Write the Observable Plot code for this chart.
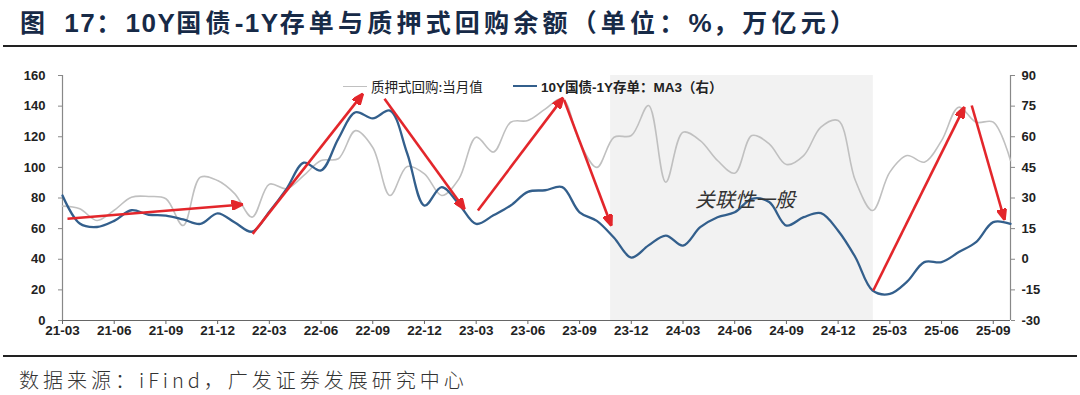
<!DOCTYPE html>
<html><head><meta charset="utf-8">
<script src="https://cdn.jsdelivr.net/npm/d3@7"></script>
<script src="https://cdn.jsdelivr.net/npm/@observablehq/plot@0.6"></script>
<style>
body{margin:0;background:#fff;width:1080px;height:395px;position:relative;overflow:hidden;font-family:"Liberation Sans","Noto Sans CJK SC",sans-serif;}
#title{position:absolute;left:20px;top:3px;font-size:25px;font-weight:bold;color:#172a47;letter-spacing:4.2px;white-space:nowrap;font-family:"Liberation Sans","Noto Sans CJK SC",sans-serif;}
#title .l{font-size:26px;letter-spacing:1.5px;}
#rule1{position:absolute;left:3px;width:1074px;top:45px;height:2px;background:#222;}
#chart{position:absolute;left:0;top:50px;}
#rule2{position:absolute;left:3px;width:1074px;top:355px;height:2px;background:#222;}
#source{position:absolute;left:19px;top:365px;font-size:20px;letter-spacing:4px;color:#333;white-space:nowrap;font-family:"Noto Sans CJK SC",sans-serif;font-weight:300;}
.lg{position:absolute;top:76px;font-size:13.5px;white-space:nowrap;color:#222;display:flex;align-items:center;}
.lg span.s{display:inline-block;width:24px;margin-right:4px;}
</style></head>
<body>
<div id="title">图&nbsp;<span class="l" style="margin-left:4px;">17</span>：<span class="l">10Y</span>国债<span class="l">-1Y</span>存单与质押式回购余额（单位：<span class="l">%</span>，万亿元）</div>
<div id="rule1"></div>
<div id="chart"></div>
<div class="lg" style="left:343px;"><span class="s" style="border-top:1.6px solid #c0c0c0;"></span><span style="font-family:'Noto Sans CJK SC';">质押式回购:当月值</span></div>
<div class="lg" style="left:513px;font-weight:bold;"><span class="s" style="border-top:2.4px solid #335f8c;"></span><span>10Y国债-1Y存单：MA3（右）</span></div>
<div id="rule2"></div>
<div id="source">数据来源：iFind，广发证券发展研究中心</div>
<script>
// x tick labels (every 3 months, month index 0 = 21-03)
const tickLabels = ["21-03","21-06","21-09","21-12","22-03","22-06","22-09","22-12","23-03","23-06","23-09","23-12","24-03","24-06","24-09","24-12","25-03","25-06","25-09"];
// 质押式回购:当月值 (left axis, 万亿元), monthly 21-03 .. 25-10
const repo = [74.7,73,65.3,72,80.5,81,79.5,62,93.6,91.4,82.7,67.5,89,86,94.7,104.5,105.6,124,113,81.6,100.6,95.8,81.6,92.5,119.7,110,129.5,130.6,138,144.8,116.5,100,119.7,120.8,140.4,90.3,123,117.5,104.5,96.2,120.8,115.4,101.9,107.7,126.3,130.6,91.4,71.8,96.9,107.7,103.4,117.5,139.3,129.5,129.5,104.5];
// 10Y国债-1Y存单 MA3 (right axis, bp)
const spread = [31.2,17.5,15.8,18.8,24,21.8,21.4,19.5,17.3,22.5,18,13.5,23.3,34.5,47.3,43.5,59,72,69,72.8,51.8,26.3,35.3,27,17.3,21.5,26.3,33,33.8,35.3,23,18.8,10.5,0.8,6.8,11.6,6.7,15.7,20.6,23,29.6,28,16.5,20.6,22.6,14,1,-15.3,-17,-11,-1.4,-1.4,3.5,8.4,18.2,17.3];
const leftTicks = [0,20,40,60,80,100,120,140,160];
const rightTicks = [-30,-15,0,15,30,45,60,75,90];
// shaded period (month index)
const shade = [{start:31.8,end:47.04}];
// red arrows (month index, left-axis units)
const arrows = [
 {x1:0.29,y1:66.4,x2:10.45,y2:75.8},
 {x1:11.03,y1:56.6,x2:17.42,y2:148},
 {x1:18.68,y1:144.8,x2:23.32,y2:72.8},
 {x1:24.1,y1:71.8,x2:29.04,y2:145.4},
 {x1:29.1,y1:144.1,x2:31.84,y2:62},
 {x1:47.04,y1:19.6,x2:52.32,y2:139.3},
 {x1:52.75,y1:140.4,x2:54.65,y2:65.8}
];
const notes = [{text:"关联性一般",x:39.6,y:78}];

const toLeft = v => (v + 30) / 0.75;
const toRight = l => Math.round(l * 0.75 - 30);

const headMarker = (color) => {
  const m = d3.create("svg:marker")
    .attr("viewBox","-11 -5 12 10")
    .attr("markerUnits","userSpaceOnUse")
    .attr("markerWidth",12).attr("markerHeight",10)
    .attr("orient","auto")
    .attr("fill",color);
  m.append("path").attr("d","M-11,-4.5L0,0L-11,4.5Z");
  return m.node();
};

const chart = Plot.plot({
  width:1080, height:295,
  marginLeft:62, marginRight:70, marginTop:25, marginBottom:25,
  x:{domain:[0,55], axis:null},
  y:{domain:[0,160], axis:null},
  style:{fontFamily:"'Liberation Sans',Arial,sans-serif", background:"transparent", overflow:"visible"},
  marks:[
    Plot.rect(shade,{x1:"start",x2:"end",fill:"#f2f2f2"}),
    Plot.axisY(leftTicks,{anchor:"left",tickSize:4,tickPadding:13,stroke:"#888",fill:"#222",fontSize:13,fontWeight:"bold",label:null}),
    Plot.axisY(rightTicks.map(toLeft),{anchor:"right",tickSize:4,tickPadding:7,stroke:"#888",fill:"#222",fontSize:13,fontWeight:"bold",label:null,tickFormat:toRight}),
    Plot.axisX(tickLabels.map((d,i)=>i*3),{anchor:"bottom",tickSize:4,tickPadding:1,stroke:"#666",fill:"#222",fontSize:13.5,fontWeight:"bold",label:null,tickFormat:d=>tickLabels[d/3]}),
    Plot.ruleX([0],{stroke:"#888",strokeWidth:1.2}),
    Plot.ruleX([55],{stroke:"#888",strokeWidth:1.2}),
    Plot.ruleY([0],{stroke:"#666",strokeWidth:1.2}),
    Plot.line(repo,{x:(d,i)=>i,y:d=>d,stroke:"#c0c0c0",strokeWidth:1.6,curve:"catmull-rom"}),
    Plot.line(spread,{x:(d,i)=>i,y:d=>toLeft(d),stroke:"#335f8c",strokeWidth:2.3,curve:"catmull-rom"}),
    Plot.text(notes,{x:"x",y:"y",text:"text",fontSize:20,fontStyle:"italic",fill:"#333",fontFamily:"'Noto Sans CJK SC',sans-serif"}),
    Plot.link(arrows,{x1:"x1",y1:"y1",x2:"x2",y2:"y2",stroke:"#e3262b",strokeWidth:2.6,markerEnd:headMarker})
  ]
});
document.getElementById("chart").appendChild(chart);
</script>
</body></html>
